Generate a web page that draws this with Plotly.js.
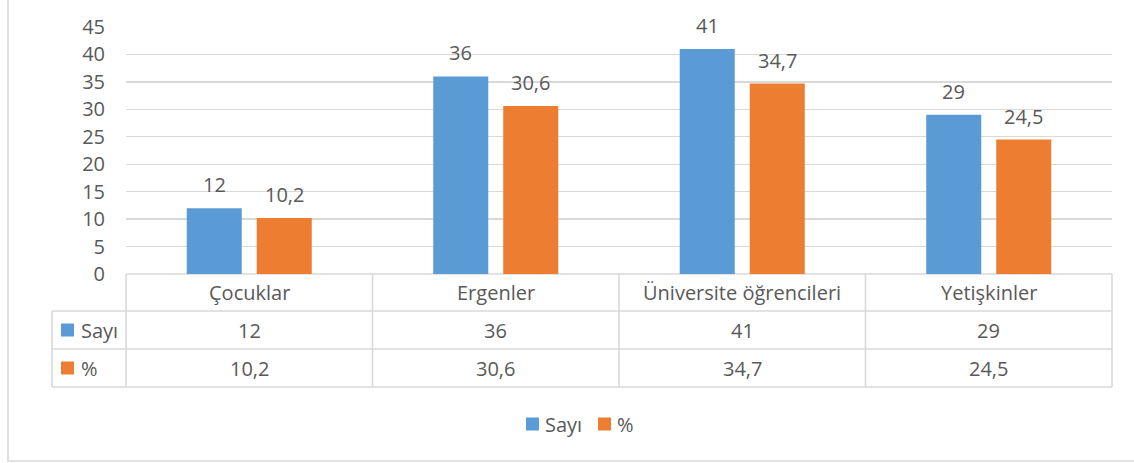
<!DOCTYPE html>
<html>
<head>
<meta charset="utf-8">
<script src="https://cdn.plot.ly/plotly-3.0.1.min.js"></script>
<style>html,body{margin:0;padding:0;background:#fff;}#chart{width:1134px;height:463px;}</style>
</head>
<body>
<div id="chart"></div>
<script>
// ---- data ----
const categories = ['Çocuklar', 'Ergenler', 'Üniversite öğrencileri', 'Yetişkinler'];
const sayi = [12, 36, 41, 29];
const yuzde = [10.2, 30.6, 34.7, 24.5];
const seriesNames = ['Sayı', '%'];
const yTicks = [0, 5, 10, 15, 20, 25, 30, 35, 40, 45];

// ---- style ----
const BLUE = '#5B9BD5', ORANGE = '#ED7D31';
const TXT = '#595959', LINE = '#D9D9D9';
const FONT = 'Open Sans, sans-serif';
const FS = 20;

// plot area in pixels
const L = 126, R = 1112, T = 27, B = 274;
const W = R - L, H = B - T;
const px = v => (v - L) / W;
const py = v => (B - v) / H;
const fmt = v => String(v).replace('.', ',');

const traces = [
  {type: 'bar', x: categories, y: sayi, name: seriesNames[0], marker: {color: BLUE}, hoverinfo: 'none'},
  {type: 'bar', x: categories, y: yuzde, name: seriesNames[1], marker: {color: ORANGE}, hoverinfo: 'none'}
];

const shapes = [];
const ln = (x0, y0, x1, y1) => shapes.push({type: 'line', xref: 'paper', yref: 'paper',
  x0: px(x0), x1: px(x1), y0: py(y0), y1: py(y1), line: {color: LINE, width: 1.6}, layer: 'below'});

// table rows
const rowTop = 274, rowH = [311, 349, 387];
const colW = W / categories.length;
ln(L, rowTop, R, rowTop);
rowH.forEach(y => ln(52, y, R, y));
ln(52, rowH[0], 52, rowH[2]);
for (let i = 0; i <= categories.length; i++) ln(L + i * colW, rowTop, L + i * colW, rowH[2]);

// outer frame
shapes.push({type: 'path', xref: 'paper', yref: 'paper',
  path: `M ${px(8)} ${py(-5)} L ${px(8)} ${py(461)} L ${px(1145)} ${py(461)}`,
  line: {color: LINE, width: 1.6}});

const annotations = [];
const ann = (o) => annotations.push(Object.assign({showarrow: false, font: {family: FONT, size: FS, color: TXT}}, o));

// bar value labels
categories.forEach((c, i) => {
  ann({x: c, xref: 'x', y: sayi[i], yref: 'y', yanchor: 'bottom', xshift: -35, yshift: 8, text: fmt(sayi[i])});
  ann({x: c, xref: 'x', y: yuzde[i], yref: 'y', yanchor: 'bottom', xshift: 35, yshift: 8, text: fmt(yuzde[i])});
  // table cells
  ann({x: c, xref: 'x', y: py((rowTop + rowH[0]) / 2), yref: 'paper', yanchor: 'middle', text: c});
  ann({x: c, xref: 'x', y: py((rowH[0] + rowH[1]) / 2), yref: 'paper', yanchor: 'middle', text: fmt(sayi[i])});
  ann({x: c, xref: 'x', y: py((rowH[1] + rowH[2]) / 2), yref: 'paper', yanchor: 'middle', text: fmt(yuzde[i])});
});

// table row keys
const key = (x, yc, color) => shapes.push({type: 'rect', xref: 'paper', yref: 'paper',
  x0: px(x), x1: px(x + 13), y0: py(yc - 6.5), y1: py(yc + 6.5), fillcolor: color, line: {width: 0}});
[[seriesNames[0], BLUE, (rowH[0] + rowH[1]) / 2], [seriesNames[1], ORANGE, (rowH[1] + rowH[2]) / 2]].forEach(([n, c, yc]) => {
  key(61, yc, c);
  ann({x: px(79), xref: 'paper', xanchor: 'left', y: py(yc), yref: 'paper', yanchor: 'middle', text: n});
});

// bottom legend
const legY = 424;
key(526, legY, BLUE);
ann({x: px(543), xref: 'paper', xanchor: 'left', y: py(legY), yref: 'paper', yanchor: 'middle', text: seriesNames[0]});
key(598, legY, ORANGE);
ann({x: px(615), xref: 'paper', xanchor: 'left', y: py(legY), yref: 'paper', yanchor: 'middle', text: seriesNames[1]});

const layout = {
  width: 1134, height: 463,
  margin: {l: L, r: 1134 - R, t: T, b: 463 - B, pad: 0},
  paper_bgcolor: '#fff', plot_bgcolor: '#fff',
  showlegend: false,
  barmode: 'group', bargap: 0.432, bargroupgap: 0.214,
  font: {family: FONT, size: FS, color: TXT},
  xaxis: {type: 'category', showticklabels: false, showgrid: false, zeroline: false, showline: false, ticks: ''},
  yaxis: {range: [0, 45], tickvals: yTicks, ticktext: yTicks.map(String), showgrid: true, gridcolor: LINE, gridwidth: 1.3,
    zeroline: false, showline: false, ticks: '', ticklabelstandoff: 20,
    tickfont: {family: FONT, size: FS, color: TXT}},
  shapes: shapes,
  annotations: annotations
};

Plotly.newPlot('chart', traces, layout, {staticPlot: true, displayModeBar: false});
</script>
</body>
</html>
